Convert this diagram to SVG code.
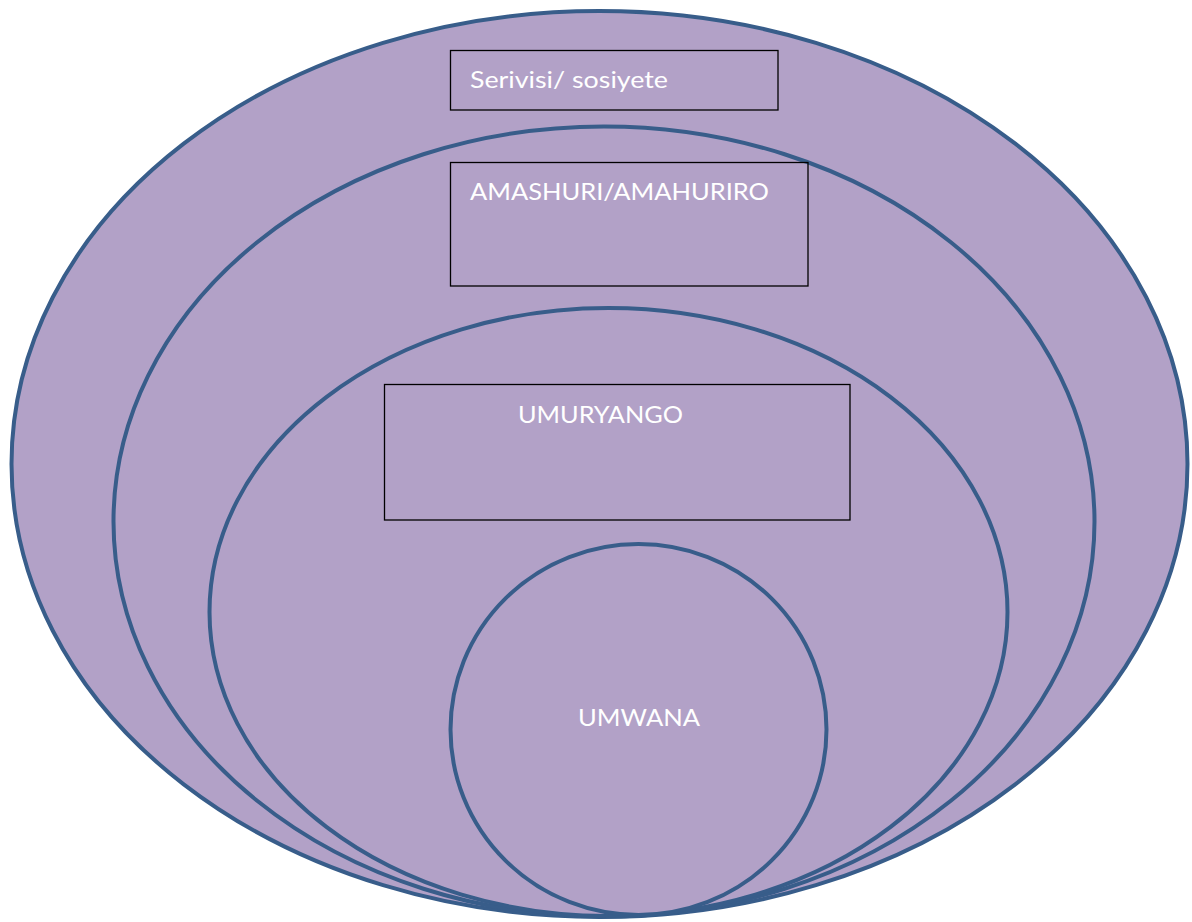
<svg xmlns="http://www.w3.org/2000/svg" width="1192" height="922" viewBox="0 0 1192 922">
<style>
.ring{fill:#b2a1c7;stroke:#385d8a;stroke-width:4}
.box{fill:none;stroke:#000;stroke-width:1.3}
.lbl{font-family:"Lato","Open Sans","Liberation Sans",sans-serif;font-size:24px;fill:#fff}
</style>
<rect width="1192" height="922" fill="#fff"/>
<g id="ring-outer"><ellipse class="ring" cx="599.5" cy="464" rx="588" ry="453"/></g>
<g id="ring-2"><ellipse class="ring" cx="604" cy="521.5" rx="490.5" ry="395"/></g>
<g id="box-serivisi"><rect class="box" x="450.5" y="50.5" width="327.5" height="59.5"/><text class="lbl" x="470" y="88" textLength="198" lengthAdjust="spacingAndGlyphs">Serivisi/ sosiyete</text></g>
<g id="box-amashuri"><rect class="box" x="450.5" y="162.5" width="357.5" height="123.5"/><text class="lbl" x="470" y="200" textLength="299" lengthAdjust="spacingAndGlyphs">AMASHURI/AMAHURIRO</text></g>
<g id="ring-3"><ellipse class="ring" cx="608.5" cy="612" rx="399" ry="304"/></g>
<g id="box-umuryango"><rect class="box" x="384.5" y="384.5" width="465.5" height="135.5"/><text class="lbl" x="518" y="423" textLength="165" lengthAdjust="spacingAndGlyphs">UMURYANGO</text></g>
<g id="circle-umwana"><ellipse class="ring" cx="638.5" cy="729.5" rx="188" ry="185.5"/><text class="lbl" x="578" y="726" textLength="122" lengthAdjust="spacingAndGlyphs">UMWANA</text></g>
<g id="connectors"/>
</svg>
